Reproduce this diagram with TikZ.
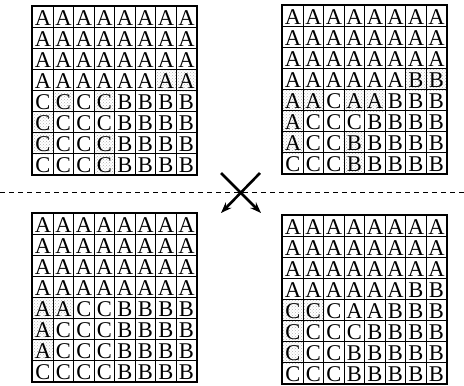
\documentclass[tikz,border=0pt]{standalone}
\usepackage{fontspec}
\setmainfont{Liberation Serif}
\usetikzlibrary{arrows.meta,patterns}
\pgfdeclarelayer{background}
\pgfsetlayers{background,main}
\tikzset{
  cellbox/.style={draw=black,line width=1.3pt,minimum width=20.5pt,minimum height=21pt,inner sep=0pt,anchor=north west},
  letter/.style={font=\fontsize{22.5}{22.5}\selectfont,anchor=base,inner sep=0pt},
  speck/.style={pattern=crosshatch dots,pattern color=black!30},
  swaparrow/.style={line width=2.6pt,-{Stealth[length=11pt,width=8pt]}},
  divider/.style={line width=1pt,dash pattern=on 5pt off 4pt}
}
% #1 name prefix, #2 x0, #3 y0, #4 rows
\newcommand\lettergrid[4]{%
  \foreach \rowlist [count=\r] in {#4} {
    \foreach \ch [count=\c] in \rowlist {
      \node[cellbox] (#1-\r-\c) at ({#2+(\c-1)*20.5},{#3+(\r-1)*21}) {};
      \node[letter] (#1-\r-\c-t) at ([yshift=2.5pt]#1-\r-\c.south) {\ch};
    }
  }
  \draw[line width=1.8pt] (#1-1-1.north west) rectangle (#1-8-8.south east);
}
\newcommand\specks[2]{%
  \begin{pgfonlayer}{background}
  \foreach \rc in {#2} {
    \fill[speck] (#1-\rc.north west) rectangle (#1-\rc.south east);
  }
  \end{pgfonlayer}
}
\begin{document}
\begin{tikzpicture}[x=1pt,y=-1pt]
\useasboundingbox (0,0) rectangle (464,386);
\lettergrid{tl}{32}{6}{{A,A,A,A,A,A,A,A},{A,A,A,A,A,A,A,A},{A,A,A,A,A,A,A,A},{A,A,A,A,A,A,A,A},{C,C,C,C,B,B,B,B},{C,C,C,C,B,B,B,B},{C,C,C,C,B,B,B,B},{C,C,C,C,B,B,B,B}}
\lettergrid{tr}{282}{5}{{A,A,A,A,A,A,A,A},{A,A,A,A,A,A,A,A},{A,A,A,A,A,A,A,A},{A,A,A,A,A,A,B,B},{A,A,C,A,A,B,B,B},{A,C,C,C,B,B,B,B},{A,C,C,B,B,B,B,B},{C,C,C,B,B,B,B,B}}
\lettergrid{bl}{32}{213}{{A,A,A,A,A,A,A,A},{A,A,A,A,A,A,A,A},{A,A,A,A,A,A,A,A},{A,A,A,A,A,A,A,A},{A,A,C,C,B,B,B,B},{A,C,C,C,B,B,B,B},{A,C,C,C,B,B,B,B},{C,C,C,C,B,B,B,B}}
\lettergrid{br}{282}{215}{{A,A,A,A,A,A,A,A},{A,A,A,A,A,A,A,A},{A,A,A,A,A,A,A,A},{A,A,A,A,A,A,B,B},{C,C,C,A,A,B,B,B},{C,C,C,C,B,B,B,B},{C,C,C,B,B,B,B,B},{C,C,C,B,B,B,B,B}}
\specks{tl}{4-7,4-8,5-2,5-4,6-1,7-1,7-4,8-4}
\specks{tr}{4-7,4-8,5-1,5-2,5-4,5-5,6-1,7-1,7-4,8-4}
\specks{bl}{5-1,5-2,6-1,7-1}
\specks{br}{5-1,5-2,6-1,7-1}
% divider
\coordinate (dl) at (0,192);
\coordinate (dr) at (464,192);
\draw[divider] (dl) -- (dr);
% crossing arrows
\coordinate (a1s) at (221,173);
\coordinate (a1e) at (261,213);
\coordinate (a2s) at (260,173);
\coordinate (a2e) at (221,213);
\draw[swaparrow] (a1s) -- (a1e);
\draw[swaparrow] (a2s) -- (a2e);
\end{tikzpicture}
\end{document}
